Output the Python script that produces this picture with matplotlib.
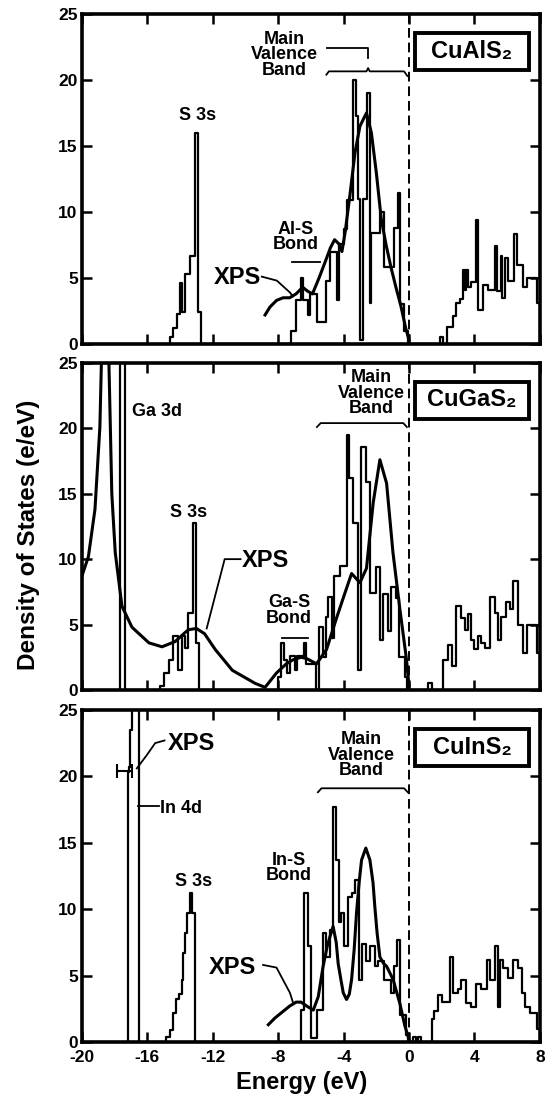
import matplotlib
matplotlib.use('Agg')
import matplotlib.pyplot as plt
from matplotlib.patches import Rectangle

plt.rcParams['font.family'] = ['Liberation Sans', 'DejaVu Sans']
plt.rcParams['font.weight'] = 'bold'
plt.rcParams['axes.unicode_minus'] = False

# ---------------- CuAlS2 ----------------
al_e = [-14.8, -14.6, -14.4, -14.2, -14.0, -13.9, -13.7, -13.4, -13.1, -12.9, -12.7,
        -7.2, -6.9, -6.6, -6.5, -6.2, -6.05, -5.6, -5.05, -4.85, -4.4, -4.3, -4.0, -3.8,
        -3.4, -3.25, -3.1, -3.0, -2.8, -2.55, -2.4, -2.3, -1.8, -1.5, -0.9, -0.7, -0.55,
        -0.3, -0.05,
        1.9, 2.1, 2.3, 2.7, 2.9, 3.1, 3.3, 3.4, 3.5, 3.6, 3.8, 4.1, 4.2, 4.5, 4.8, 5.25,
        5.4, 5.6, 5.7, 5.85, 6.05, 6.4, 6.6, 7.0, 7.2, 7.8, 8.0]
al_dos = [0, 0.5, 1.2, 2.3, 4.6, 2.4, 5.3, 6.7, 16.0, 2.4, 0,
          1.0, 3.3, 5.0, 3.3, 2.2, 3.8, 1.7, 4.8, 7.0, 3.3, 7.6, 8.7, 10.9,
          20.0, 17.3, 11.0, 0.3, 11.0, 19.0, 3.1, 8.4, 10.0, 5.8, 8.8, 11.4, 3.0,
          1.0, 0,
          0.5, 0, 1.3, 2.1, 3.1, 3.4, 5.6, 4.1, 5.6, 4.3, 4.7, 9.4, 2.6, 4.5, 4.1, 7.4,
          4.0, 6.7, 3.5, 6.5, 4.8, 8.3, 6.0, 4.3, 5.0, 3.1, 3.1]
al_xps_e = [-8.8, -8.5, -8.1, -7.7, -7.3, -6.9, -6.5, -6.2, -5.9, -5.5, -5.1, -4.8, -4.55,
            -4.3, -4.1, -3.9, -3.6, -3.3, -3.0, -2.6, -2.3, -2.0, -1.7, -1.4, -1.1, -0.8,
            -0.5, -0.2, 0]
al_xps = [2.2, 2.8, 3.3, 3.5, 3.5, 3.8, 4.3, 4.0, 3.8, 5.0, 6.3, 7.3, 7.9,
          7.6, 7.0, 8.5, 11.4, 14.5, 16.5, 17.5, 16.0, 13.0, 9.5, 7.5, 5.8, 4.3,
          2.9, 1.2, 0.3]

# ---------------- CuGaS2 ----------------
ga_e = [-17.75, -17.65, -17.35,
        -15.2, -15.0, -14.7, -14.4, -14.1, -13.9, -13.7, -13.5, -13.2, -13.0, -12.85,
        -8.0, -7.8, -7.65, -7.45, -7.3, -7.0, -6.85, -6.45, -6.3, -5.7, -5.5, -5.25,
        -5.1, -4.95, -4.7, -4.6, -4.2, -3.8, -3.65, -3.4, -3.1, -2.95, -2.65, -2.4,
        -2.0, -1.8, -1.6, -1.3, -1.1, -0.8, -0.6, -0.25, -0.1,
        1.15, 1.4, 2.1, 2.4, 2.6, 2.9, 3.2, 3.4, 3.6, 3.8, 4.0, 4.2, 4.4, 4.65, 4.95,
        5.25, 5.45, 5.65, 5.95, 6.15, 6.35, 6.65, 7.0, 7.2, 7.8, 8.0]
ga_dos = [0, 40, 0,
          0.3, 1.3, 2.3, 4.1, 1.5, 4.1, 3.2, 5.9, 12.8, 3.6, 0,
          1.0, 3.6, 2.3, 1.3, 2.6, 1.5, 2.6, 3.6, 2.0, 0, 4.8, 2.5,
          5.6, 7.1, 4.0, 8.7, 9.5, 19.5, 16.2, 12.8, 1.5, 18.6, 15.9, 7.4,
          9.4, 3.8, 7.3, 4.5, 7.9, 7.0, 2.5, 1.0, 0,
          0.5, 0, 2.3, 3.4, 1.8, 6.4, 5.5, 4.6, 5.8, 3.8, 3.1, 4.1, 3.6, 3.2, 7.1,
          5.9, 3.8, 5.6, 6.7, 6.2, 8.3, 5.0, 2.8, 5.0, 2.8, 2.8]
ga_xps_e = [-20.0, -19.6, -19.2, -18.9, -18.75, -18.55, -18.4, -18.17, -17.96, -17.55,
            -16.94, -15.9, -15.1, -14.3, -13.5, -13.0, -12.5, -11.85, -10.8, -9.4,
            -8.8, -8.1, -7.5, -7.1, -6.6, -6.26, -5.65, -5.04, -4.43, -3.92, -3.51,
            -3.0, -2.6, -2.19, -1.78, -1.37, -0.98, -0.56, -0.15, 0]
ga_xps = [8.7, 10.2, 13.8, 20.1, 28, 32, 28, 15.0, 10.5, 6.4,
          4.8, 3.6, 3.3, 3.7, 4.6, 4.7, 4.3, 3.1, 1.5, 0.5,
          0.2, 1.3, 2.0, 2.3, 2.5, 2.4, 2.0, 3.1, 5.5, 7.4, 8.9,
          8.2, 9.3, 14.3, 17.6, 15.8, 10.5, 6.2, 2.3, 0.3]

# ---------------- CuInS2 ----------------
in_e = [-17.3, -17.2, -17.12, -17.05, -16.95, -16.5,
        -14.85, -14.6, -14.45, -14.25, -14.05, -13.9, -13.8, -13.7, -13.55, -13.4,
        -13.28, -13.07,
        -6.6, -6.4, -6.15, -6.0, -5.65, -5.25, -5.05, -4.85, -4.65, -4.45, -4.3, -4.15,
        -3.95, -3.75, -3.5, -3.3, -3.05, -2.9, -2.65, -2.4, -2.1, -1.9, -1.5, -1.1,
        -0.9, -0.75, -0.55, -0.2, -0.05,
        0.25, 0.45, 0.55, 0.75, 1.4, 1.5, 1.8, 2.0, 2.5, 2.7, 3.0, 3.2, 3.5, 3.8, 4.1,
        4.4, 4.75, 4.95, 5.25, 5.45, 5.55, 5.75, 6.05, 6.35, 6.65, 6.9, 7.1, 7.4, 7.8,
        8.0]
in_dos = [0, 20.3, 20.7, 23.5, 40, 0,
          0.4, 0.9, 2.2, 3.2, 3.6, 4.7, 6.7, 8.2, 9.7, 11.2,
          9.7, 0,
          2.4, 11.2, 7.2, 0.3, 2.4, 8.2, 6.4, 8.4, 17.7, 13.7, 9.0, 9.7,
          7.2, 10.9, 11.2, 12.2, 4.7, 7.4, 6.1, 7.2, 5.7, 6.1, 4.7, 3.7,
          5.7, 7.7, 2.0, 0.5, 0,
          0.4, 0, 0.4, 0, 1.7, 2.3, 3.5, 3.0, 6.4, 3.7, 4.0, 4.7, 2.9, 2.6, 4.4,
          4.0, 6.2, 4.7, 7.2, 2.6, 6.2, 5.6, 4.8, 6.2, 5.6, 3.7, 2.6, 2.2, 1.0,
          1.0]
in_xps_e = [-8.6, -8.2, -7.7, -7.3, -6.9, -6.6, -6.25, -5.85, -5.55, -5.25, -5.0, -4.84,
            -4.64, -4.45, -4.33, -4.15, -4.02, -3.82, -3.65, -3.51, -3.35, -3.21, -3.05,
            -2.9, -2.64, -2.39, -2.2, -2.09, -1.95, -1.78, -1.55, -1.37, -0.97, -0.56,
            -0.25, 0]
in_xps = [1.3, 1.8, 2.3, 2.7, 3.0, 3.0, 2.7, 2.4, 3.4, 5.7, 7.2, 7.9,
          8.7, 7.5, 5.9, 4.6, 3.7, 3.2, 3.6, 4.7, 7.0, 9.7, 12.0,
          13.7, 14.6, 13.7, 12.0, 10.2, 8.2, 6.4, 5.9, 5.7, 4.7, 2.9,
          1.2, 0.2]
in4d_xps_pos = -17.4
in4d_xps_err = 0.46
in4d_xps_y = 20.4

names = ['CuAlS\u2082', 'CuGaS\u2082', 'CuInS\u2082']

fig = plt.figure(figsize=(5.57, 11.15), dpi=100)
rects = [[0.147, 0.6915, 0.8222, 0.296],
         [0.147, 0.3812, 0.8222, 0.2933],
         [0.147, 0.0655, 0.8222, 0.2978]]
data = [(al_e, al_dos, al_xps_e, al_xps),
        (ga_e, ga_dos, ga_xps_e, ga_xps),
        (in_e, in_dos, in_xps_e, in_xps)]

axes = []
for i, (r, (e, d, xe, xv)) in enumerate(zip(rects, data)):
    ax = fig.add_axes(r)
    ax.step(e, d, where='post', color='k', lw=1.6)
    ax.plot(xe, xv, color='k', lw=2.2, solid_joinstyle='round')
    ax.axvline(0, color='k', ls=(0, (5, 2.5)), lw=1.4)
    ax.set_xlim(-20, 8)
    ax.set_ylim(0, 25)
    ax.set_xticks(range(-20, 9, 4))
    ax.set_yticks(range(0, 26, 5))
    ax.tick_params(direction='in', top=True, right=True, length=7, width=1.8,
                   labelsize=12.5, pad=3)
    ax.tick_params(axis='x', pad=6)
    if i < 2:
        ax.tick_params(labelbottom=False)
    for s in ax.spines.values():
        s.set_linewidth(2.6)
    # compound label box
    ax.add_patch(Rectangle((0.727, 0.830), 0.25, 0.113, transform=ax.transAxes,
                           fill=False, ec='k', lw=2.8, zorder=5))
    ax.text(0.852, 0.887, names[i], transform=ax.transAxes, ha='center',
            va='center', fontsize=17)
    axes.append(ax)

ax1, ax2, ax3 = axes
fs = 13
xfs = 17

# panel 1 labels
ax1.text(-12.95, 17.3, 'S 3s', ha='center', va='center', fontsize=fs)
ax1.text(-7.6, 21.9, 'Main\nValence\nBand', ha='center', va='center', fontsize=fs,
         linespacing=0.9)
ax1.plot([-5.0, -2.5, -2.5], [22.4, 22.4, 21.7], color='k', lw=1.3)
ax1.plot([-5.05, -4.9, -2.6, -2.5, -2.4, -0.3, -0.1],
         [20.4, 20.65, 20.65, 20.9, 20.65, 20.65, 20.3], color='k', lw=1.3)
ax1.text(-6.92, 8.1, 'Al-S\nBond', ha='center', va='center', fontsize=fs,
         linespacing=0.9)
ax1.plot([-7.15, -5.45], [6.2, 6.2], color='k', lw=1.3)
ax1.text(-10.46, 5.0, 'XPS', ha='center', va='center', fontsize=xfs)
ax1.plot([-9.0, -8.08, -7.28, -7.1], [5.1, 4.8, 3.9, 3.6], color='k', lw=1.3)

# panel 2 labels
ax2.text(-16.94, 21.3, 'Ga 3d', ha='left', va='center', fontsize=fs)
ax2.text(-13.46, 13.6, 'S 3s', ha='center', va='center', fontsize=fs)
ax2.text(-8.75, 9.9, 'XPS', ha='center', va='center', fontsize=xfs)
ax2.plot([-10.3, -11.27, -12.37], [10.0, 10.0, 4.7], color='k', lw=1.3)
ax2.text(-7.34, 6.1, 'Ga-S\nBond', ha='center', va='center', fontsize=fs,
         linespacing=0.9)
ax2.plot([-7.77, -6.18], [4.0, 4.0], color='k', lw=1.3)
ax2.text(-2.33, 22.7, 'Main\nValence\nBand', ha='center', va='center', fontsize=fs,
         linespacing=0.9)
ax2.plot([-5.63, -5.4, -0.35, -0.13], [20.1, 20.4, 20.4, 20.1], color='k', lw=1.3)

# panel 3 labels
ax3.errorbar([in4d_xps_pos], [in4d_xps_y], xerr=[in4d_xps_err], color='k',
             lw=1.5, capsize=5, capthick=1.5)
ax3.text(-13.3, 22.5, 'XPS', ha='center', va='center', fontsize=xfs)
ax3.plot([-14.95, -15.52, -16.03, -16.64], [22.7, 22.5, 21.6, 20.6], color='k', lw=1.3)
ax3.text(-15.23, 17.6, 'In 4d', ha='left', va='center', fontsize=fs)
ax3.plot([-16.54, -15.3], [17.8, 17.8], color='k', lw=1.3)
ax3.text(-13.15, 12.1, 'S 3s', ha='center', va='center', fontsize=fs)
ax3.text(-7.34, 13.1, 'In-S\nBond', ha='center', va='center', fontsize=fs,
         linespacing=0.9)
ax3.text(-10.8, 5.6, 'XPS', ha='center', va='center', fontsize=xfs)
ax3.plot([-8.92, -8.1, -7.28, -7.1], [5.8, 5.6, 3.7, 3.0], color='k', lw=1.3)
ax3.text(-2.94, 21.6, 'Main\nValence\nBand', ha='center', va='center', fontsize=fs,
         linespacing=0.9)
ax3.plot([-5.57, -5.35, -0.3, -0.07], [18.8, 19.1, 19.1, 18.8], color='k', lw=1.3)

fig.text(0.052, 0.52, 'Density of States (e/eV)', rotation=90, ha='center',
         va='center', fontsize=17.5)
fig.text(0.542, 0.029, 'Energy (eV)', ha='center', va='center', fontsize=17)

fig.savefig('out.png', dpi=100)
